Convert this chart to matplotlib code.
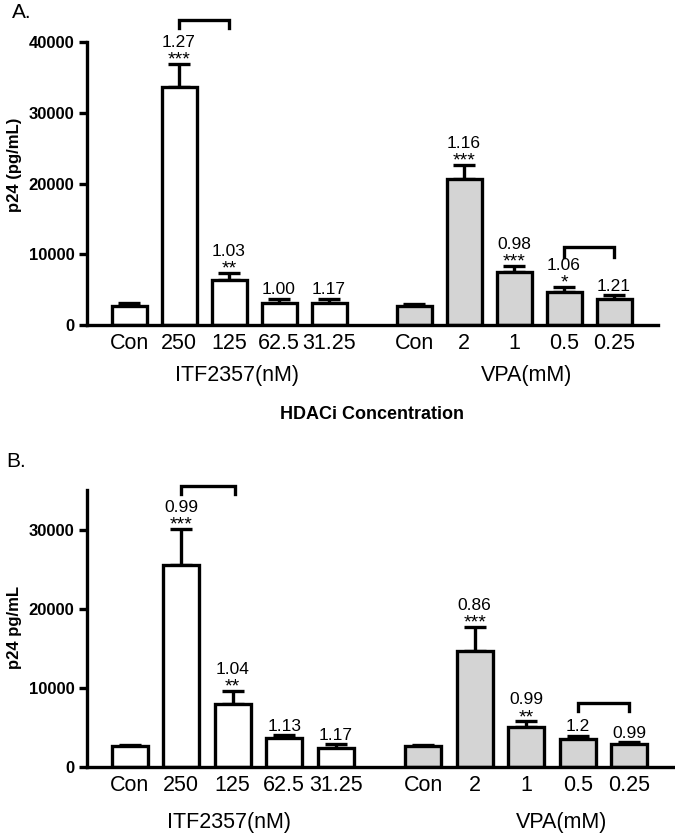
import matplotlib
matplotlib.use("Agg")
import matplotlib.pyplot as plt
import numpy as np

plt.rcParams["font.family"] = ["Liberation Sans", "DejaVu Sans"]

# tick labels
itf_labels = ["Con", "250", "125", "62.5", "31.25"]
vpa_labels = ["Con", "2", "1", "0.5", "0.25"]

# panel A
a_itf = [2700, 33700, 6350, 3100, 3150]
a_itf_err = [400, 3200, 1000, 600, 550]
a_vpa = [2700, 20650, 7500, 4700, 3700]
a_vpa_err = [300, 2000, 850, 700, 550]
a_itf_ratio = ["", "1.27", "1.03", "1.00", "1.17"]
a_itf_stars = ["", "***", "**", "", ""]
a_vpa_ratio = ["", "1.16", "0.98", "1.06", "1.21"]
a_vpa_stars = ["", "***", "***", "*", ""]

# panel B
b_itf = [2650, 25600, 8000, 3650, 2400]
b_itf_err = [150, 4550, 1650, 400, 500]
b_vpa = [2650, 14700, 5050, 3550, 2900]
b_vpa_err = [150, 3050, 750, 400, 250]
b_itf_ratio = ["", "0.99", "1.04", "1.13", "1.17"]
b_itf_stars = ["", "***", "**", "", ""]
b_vpa_ratio = ["", "0.86", "0.99", "1.2", "0.99"]
b_vpa_stars = ["", "***", "**", "", ""]

x_itf = np.arange(5)
x_vpa = np.arange(5) + 5.7
LW = 2.4


def panel(ax, itf, itf_err, vpa, vpa_err, itf_r, itf_s, vpa_r, vpa_s,
          ymax, yticks, brackets, lab_y, itf_lab_x, vpa_lab_x):
    for xs, vals, errs, col in [(x_itf, itf, itf_err, "white"),
                                (x_vpa, vpa, vpa_err, "#d4d4d4")]:
        ax.bar(xs, vals, width=0.7, color=col, edgecolor="black",
               linewidth=LW, zorder=2)
        ax.errorbar(xs, vals, yerr=[np.zeros(5), errs], fmt="none",
                    ecolor="black", elinewidth=LW, capsize=8,
                    capthick=LW, zorder=1)
    for xs, vals, errs, rats, stars in [(x_itf, itf, itf_err, itf_r, itf_s),
                                        (x_vpa, vpa, vpa_err, vpa_r, vpa_s)]:
        for x, v, e, r, s in zip(xs, vals, errs, rats, stars):
            top = v + e
            if s:
                ax.annotate(s, (x, top), xytext=(0, -3.5), textcoords="offset points",
                            ha="center", va="bottom", fontsize=14)
                ax.annotate(r, (x, top), xytext=(0, 10), textcoords="offset points",
                            ha="center", va="bottom", fontsize=12.5)
            elif r:
                ax.annotate(r, (x, top), xytext=(0, 1), textcoords="offset points",
                            ha="center", va="bottom", fontsize=12.5)
    for x0, x1, y, d in brackets:
        ax.plot([x0, x0, x1, x1], [y - d, y, y, y - d], color="black",
                linewidth=LW, clip_on=False, solid_joinstyle="miter")
    ax.set_xlim(-0.84, 10.58)
    ax.set_ylim(0, ymax)
    ax.set_yticks(yticks)
    ax.set_yticklabels([str(t) for t in yticks], fontweight="bold", fontsize=12)
    ax.set_xticks(list(x_itf) + list(x_vpa))
    ax.set_xticklabels(itf_labels + vpa_labels, fontsize=15.5)
    ax.tick_params(axis="x", length=0, pad=6)
    ax.tick_params(axis="y", direction="out", length=6, width=LW, pad=3)
    for sp in ["top", "right"]:
        ax.spines[sp].set_visible(False)
    for sp in ["left", "bottom"]:
        ax.spines[sp].set_linewidth(LW)
    tr = ax.get_xaxis_transform()
    ax.text(itf_lab_x, lab_y, "ITF2357(nM)", transform=tr, ha="center",
            va="center", fontsize=15.5)
    ax.text(vpa_lab_x, lab_y, "VPA(mM)", transform=tr, ha="center",
            va="center", fontsize=15.5)


fig = plt.figure(figsize=(6.75, 8.39), dpi=100)
ax_a = fig.add_axes([0.1289, 0.6126, 0.846, 0.3373])
panel(ax_a, a_itf, a_itf_err, a_vpa, a_vpa_err, a_itf_ratio, a_itf_stars,
      a_vpa_ratio, a_vpa_stars, 40000, [0, 10000, 20000, 30000, 40000],
      [(1, 2, 43100, 1100), (8.7, 9.7, 11000, 1400)], -0.178, 2.16, 7.96)

ax_b = fig.add_axes([0.1289, 0.0858, 0.871, 0.330])
panel(ax_b, b_itf, b_itf_err, b_vpa, b_vpa_err, b_itf_ratio, b_itf_stars,
      b_vpa_ratio, b_vpa_stars, 35000, [0, 10000, 20000, 30000],
      [(1, 2.05, 35500, 1000), (8.7, 9.7, 8100, 1000)], -0.2, 1.93, 8.38)
ax_b.set_xlim(-0.83, 10.59)
ax_b.spines["left"].set_bounds(0, 35000)

fig.text(0.551, 0.5054, "HDACi Concentration", ha="center", va="center",
         fontsize=13, fontweight="bold")
fig.text(0.018, 0.985, "A.", ha="left", va="center", fontsize=15)
fig.text(0.010, 0.4505, "B.", ha="left", va="center", fontsize=15)
fig.text(0.022, 0.803, "p24 (pg/mL)", rotation=90, ha="center", va="center",
         fontsize=12, fontweight="bold")
fig.text(0.022, 0.2527, "p24 pg/mL", rotation=90, ha="center", va="center",
         fontsize=12, fontweight="bold")

fig.savefig("out.png", dpi=100)
